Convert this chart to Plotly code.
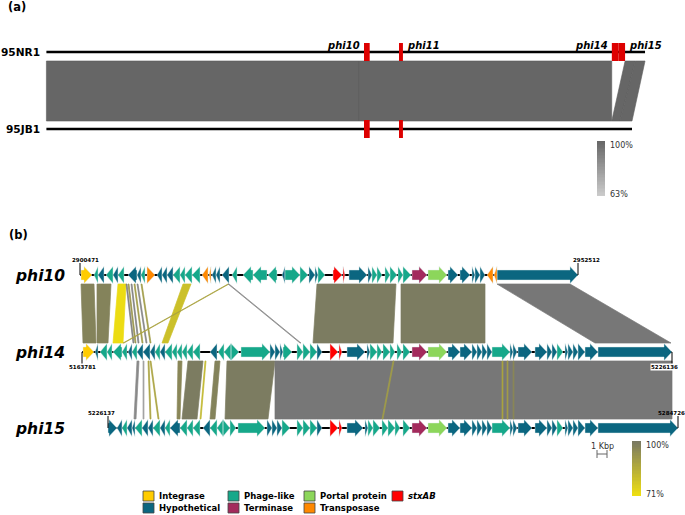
import plotly.graph_objects as go

FONT = "DejaVu Sans"

# ---------------- panel (a): whole genome comparison (Mb) ----------------
GENOMES = ["95NR1", "95JB1"]
GENOME_LEN_MB = [5.467, 5.348]
PHAGES_A = ["phi10", "phi11", "phi14", "phi15"]
PHAGE_START_MB = [2.9005, 3.2200, 5.1638, 5.2261]
PHAGE_END_MB = [2.9525, 3.2560, 5.2261, 5.2847]
PHAGE_IN_95JB1 = [True, True, False, False]
# (95NR1 start, 95NR1 end, 95JB1 start, 95JB1 end, identity %)
BLOCKS_A = [
    (0.000, 2.855, 0.000, 2.855, 100),
    (2.855, 5.163, 2.855, 5.163, 100),
    (5.285, 5.378, 5.163, 5.238, 100),
    (5.378, 5.467, 5.238, 5.348, 100),
]
IDENT_A = (63, 100)

# ---------------- panel (b): prophage comparison (kb on the track) ----------------
ROWS = ["phi10", "phi14", "phi15"]
ROW_COORDS = [(2900471, 2952512), (5163781, 5226136), (5226137, 5284726)]
ROW_OFFSET_KB = [8.0, 8.2, 10.8]
ROW_LEN_KB = [49.8, 59.0, 57.0]

# gene: (start kb, end kb, strand, type)  I integrase, H hypothetical, P phage-like,
# T terminase, L portal protein, X transposase, S stxAB
GENES_PHI10 = [
    (0.1, 1.2, 1, "I"), (1.4, 1.8, -1, "P"), (1.8, 2.4, -1, "H"), (2.6, 3.3, -1, "P"),
    (3.3, 3.8, -1, "H"), (3.8, 4.4, -1, "P"), (4.8, 5.7, -1, "H"), (5.7, 6.1, -1, "H"),
    (6.1, 6.5, -1, "P"), (6.7, 7.5, 1, "X"), (7.7, 8.2, -1, "H"), (8.2, 8.7, -1, "H"),
    (8.7, 9.3, -1, "H"), (9.3, 10.0, -1, "P"), (10.0, 10.5, -1, "P"), (10.5, 11.2, -1, "P"),
    (11.2, 12.0, -1, "P"), (12.2, 12.8, -1, "X"), (12.9, 13.1, -1, "X"), (13.2, 13.6, -1, "H"),
    (13.6, 14.0, -1, "H"), (14.2, 14.9, -1, "H"), (15.2, 15.7, -1, "P"), (16.3, 17.3, -1, "P"),
    (17.3, 18.7, -1, "P"), (18.8, 19.7, -1, "P"), (20.2, 20.5, -1, "H"), (20.5, 22.0, 1, "P"),
    (22.0, 22.8, 1, "P"), (22.9, 23.5, 1, "H"), (23.5, 23.8, 1, "H"), (23.8, 24.5, 1, "P"),
    (25.3, 26.2, 1, "S"), (26.3, 26.5, 1, "S"), (26.9, 28.7, 1, "H"), (28.8, 29.2, 1, "H"),
    (29.2, 29.7, 1, "P"), (29.7, 30.2, 1, "P"), (30.5, 31.0, 1, "P"), (31.0, 31.7, 1, "P"),
    (31.8, 32.3, 1, "P"), (32.3, 33.1, 1, "P"), (33.2, 34.7, 1, "T"), (34.8, 36.7, 1, "L"),
    (36.8, 37.8, 1, "H"), (38.0, 39.0, 1, "H"), (39.2, 39.5, 1, "H"), (39.5, 40.0, 1, "H"),
    (40.0, 40.5, 1, "H"), (40.7, 41.3, -1, "X"), (41.4, 41.7, -1, "X"), (41.7, 49.8, 1, "H"),
]
GENES_PHI14 = [
    (0.1, 1.2, 1, "I"), (1.3, 1.6, -1, "H"), (1.8, 2.5, -1, "P"), (2.5, 3.0, -1, "P"),
    (3.1, 4.0, -1, "P"), (4.0, 4.5, -1, "P"), (4.6, 5.0, -1, "H"), (5.0, 5.5, -1, "P"),
    (5.5, 6.1, -1, "H"), (6.1, 6.8, -1, "H"), (6.8, 7.3, -1, "H"), (7.3, 7.8, -1, "P"),
    (7.8, 8.3, -1, "H"), (8.3, 9.0, -1, "P"), (9.0, 9.5, -1, "P"), (9.5, 10.0, -1, "P"),
    (10.0, 10.5, -1, "P"), (10.5, 11.1, -1, "P"), (11.1, 11.8, -1, "P"), (12.8, 13.5, -1, "H"),
    (13.6, 14.2, -1, "P"), (14.2, 14.9, -1, "P"), (14.9, 15.7, 1, "P"), (15.9, 18.8, 1, "P"),
    (18.8, 19.3, 1, "H"), (19.3, 19.8, 1, "H"), (19.8, 20.1, 1, "H"), (20.1, 21.0, 1, "P"),
    (21.5, 22.1, 1, "P"), (22.1, 22.8, 1, "P"), (22.8, 23.5, 1, "P"), (23.5, 24.0, 1, "H"),
    (24.8, 25.6, 1, "S"), (25.7, 26.0, 1, "S"), (26.5, 28.3, 1, "H"), (28.5, 28.8, 1, "H"),
    (28.8, 29.5, 1, "P"), (29.5, 30.0, 1, "P"), (30.1, 30.8, 1, "P"), (30.8, 31.3, 1, "P"),
    (31.5, 32.0, 1, "P"), (32.1, 32.8, 1, "P"), (33.0, 34.5, 1, "T"), (34.6, 36.5, 1, "L"),
    (36.6, 37.8, 1, "H"), (37.8, 39.0, 1, "H"), (39.0, 39.5, 1, "H"), (39.5, 40.0, 1, "H"),
    (40.0, 40.5, 1, "H"), (40.5, 41.0, 1, "H"), (41.0, 42.8, 1, "P"), (42.8, 43.1, 1, "H"),
    (43.1, 43.5, 1, "H"), (43.6, 45.0, 1, "H"), (45.3, 46.5, 1, "H"), (46.5, 47.0, 1, "H"),
    (47.0, 47.5, 1, "H"), (47.5, 48.1, 1, "P"), (48.3, 48.6, 1, "H"), (48.6, 49.1, 1, "H"),
    (49.1, 49.6, 1, "H"), (49.6, 50.3, 1, "H"), (50.3, 51.6, 1, "H"), (51.6, 59.0, 1, "H"),
]
GENES_PHI15 = [
    (0.0, 0.9, 1, "H"), (0.9, 1.4, -1, "H"), (1.4, 1.9, -1, "P"), (1.9, 2.4, -1, "H"),
    (2.4, 2.7, -1, "H"), (2.7, 3.4, -1, "P"), (3.4, 4.0, -1, "H"), (4.0, 4.5, -1, "H"),
    (4.5, 5.2, -1, "P"), (5.2, 5.7, -1, "H"), (5.7, 6.2, -1, "P"), (6.2, 7.2, -1, "H"),
    (7.2, 7.9, -1, "P"), (7.9, 8.5, -1, "P"), (8.5, 9.2, -1, "P"), (9.5, 10.2, -1, "H"),
    (10.2, 10.9, -1, "P"), (10.9, 11.5, -1, "P"), (11.5, 12.2, 1, "P"), (12.2, 12.8, 1, "P"),
    (13.0, 15.7, 1, "P"), (15.9, 16.4, 1, "H"), (16.4, 16.9, 1, "H"), (16.9, 17.4, 1, "H"),
    (17.4, 18.2, 1, "P"), (18.9, 19.5, 1, "P"), (19.5, 20.2, 1, "P"), (20.2, 20.9, 1, "P"),
    (20.9, 21.4, 1, "H"), (22.2, 23.0, 1, "S"), (23.1, 23.4, 1, "S"), (23.9, 25.5, 1, "H"),
    (25.7, 26.0, 1, "H"), (26.0, 26.5, 1, "P"), (26.5, 27.2, 1, "P"), (27.4, 28.0, 1, "P"),
    (28.0, 28.7, 1, "P"), (28.7, 29.2, 1, "P"), (29.5, 30.2, 1, "P"), (30.4, 31.9, 1, "T"),
    (32.0, 33.9, 1, "L"), (34.0, 35.2, 1, "H"), (35.2, 36.4, 1, "H"), (36.4, 36.9, 1, "H"),
    (36.9, 37.4, 1, "H"), (37.4, 37.9, 1, "H"), (37.9, 38.4, 1, "H"), (38.4, 40.2, 1, "P"),
    (40.2, 40.5, 1, "H"), (40.5, 40.9, 1, "H"), (41.0, 42.4, 1, "H"), (42.7, 43.9, 1, "H"),
    (43.9, 44.4, 1, "H"), (44.4, 44.9, 1, "H"), (44.9, 45.5, 1, "P"), (45.7, 46.0, 1, "H"),
    (46.0, 46.5, 1, "H"), (46.5, 47.0, 1, "H"), (47.0, 47.7, 1, "H"), (47.7, 49.0, 1, "H"),
    (49.0, 57.0, 1, "H"),
]
GENES = [GENES_PHI10, GENES_PHI14, GENES_PHI15]

# blast hits: (upper start, upper end, lower start, lower end, identity %, kind)
HITS_10_14 = [
    (0.1, 1.4, 0.1, 1.4, 97, "inv"), (1.7, 3.1, 1.5, 2.6, 97, "inv"),
    (3.8, 4.6, 3.1, 4.1, 72, "inv"), (4.6, 4.7, 5.1, 5.2, 96, "fwd"),
    (4.8, 4.9, 5.3, 5.4, 92, "inv"), (5.1, 5.2, 5.6, 5.7, 95, "fwd"),
    (5.4, 5.5, 6.0, 6.1, 90, "inv"), (5.7, 5.8, 6.4, 6.5, 94, "fwd"),
    (6.1, 6.2, 6.8, 6.9, 90, "inv"), (10.3, 11.1, 8.0, 8.6, 80, "inv"),
    (14.8, 14.9, 4.1, 4.2, 88, "inv"), (14.8, 14.9, 21.8, 21.9, 92, "fwd"),
    (23.7, 31.6, 23.1, 31.1, 99, "inv"), (32.1, 40.5, 31.9, 40.3, 99, "inv"),
    (41.7, 49.0, 51.3, 58.9, 100, "fwd"),
]
HITS_14_15 = [
    (5.5, 5.7, 2.6, 2.8, 92, "fwd"), (6.1, 6.2, 3.5, 3.6, 80, "fwd"),
    (6.6, 6.7, 4.2, 4.3, 88, "inv"), (6.8, 6.9, 5.0, 5.1, 88, "inv"),
    (9.6, 10.0, 6.9, 7.2, 96, "inv"), (10.6, 12.1, 7.4, 8.9, 99, "inv"),
    (12.3, 12.4, 9.2, 9.3, 82, "inv"), (13.3, 13.8, 10.2, 10.7, 97, "inv"),
    (14.5, 19.3, 11.7, 16.0, 99, "inv"), (19.3, 59.0, 16.7, 56.4, 100, "fwd"),
    (31.1, 31.2, 27.4, 27.5, 90, "inv"), (42.0, 42.1, 39.4, 39.5, 88, "inv"),
    (42.5, 42.6, 39.9, 40.0, 90, "inv"), (43.1, 43.2, 40.5, 40.6, 96, "inv"),
]
IDENT_B = (71, 100)

GENE_CODES = ["I", "H", "P", "T", "L", "X", "S"]
GENE_NAMES = ["Integrase", "Hypothetical", "Phage-like", "Terminase",
              "Portal protein", "Transposase", "<i>stxAB</i>"]
GENE_COLORS = {"I": "#ffcc00", "H": "#0b6680", "P": "#16a88a", "T": "#a32a5c",
               "L": "#8cd65b", "X": "#ff8800", "S": "#ff0000"}

# ---------------- layout constants (pixel space) ----------------
Y_A = [52, 129]
Y_ROWS = [275, 352, 428]
HEAD_H, SHAFT_H, HEAD_KB = 8.5, 5.0, 0.8


def hex_rgb(c):
    c = c.lstrip("#")
    return [int(c[i:i + 2], 16) for i in (0, 2, 4)]


def blend(c_hi, c_lo, ident, lo, hi):
    t = min(max((hi - ident) / (hi - lo), 0), 1)
    a, b = hex_rgb(c_hi), hex_rgb(c_lo)
    return "rgb({},{},{})".format(*[round(a[i] + (b[i] - a[i]) * t) for i in range(3)])


def hit_color(ident, kind):
    if kind == "inv":
        return blend("#787864", "#f0e010", ident, *IDENT_B)
    return blend("#777777", "#cccccc", ident, 63, 100)


def arrow(x0, x1, strand, yc):
    base, tip = (x0, x1) if strand > 0 else (x1, x0)
    d = 1 if strand > 0 else -1
    h = min(abs(x1 - x0), HEAD_KB)
    neck = tip - d * h
    if abs(x1 - x0) > h + 1e-9:
        xs = [base, neck, neck, tip, neck, neck, base, base]
        ys = [yc - SHAFT_H, yc - SHAFT_H, yc - HEAD_H, yc, yc + HEAD_H, yc + SHAFT_H, yc + SHAFT_H, yc - SHAFT_H]
    else:
        xs = [base, tip, base, base]
        ys = [yc - HEAD_H, yc, yc + HEAD_H, yc - HEAD_H]
    return xs, ys


fig = go.Figure()

# ---- panel (a) ----
for (t0, t1, b0, b1, ident) in BLOCKS_A:
    col = blend("#666666", "#cccccc", ident, *IDENT_A)
    fig.add_trace(go.Scatter(
        x=[t0, t1, b1, b0, t0], y=[Y_A[0] + 9, Y_A[0] + 9, Y_A[1] - 8, Y_A[1] - 8, Y_A[0] + 9],
        mode="lines", fill="toself", fillcolor=col, line=dict(color="#5c5c5c", width=0.6),
        xaxis="x2", yaxis="y", hoverinfo="skip"))
for name, length, y in zip(GENOMES, GENOME_LEN_MB, Y_A):
    fig.add_trace(go.Scatter(x=[0, length], y=[y, y], mode="lines",
                             line=dict(color="black", width=2.6), xaxis="x2", yaxis="y", hoverinfo="skip"))

shapes = []
annotations = []
for i, (p, s, e) in enumerate(zip(PHAGES_A, PHAGE_START_MB, PHAGE_END_MB)):
    for j, y in enumerate(Y_A):
        if j == 1 and not PHAGE_IN_95JB1[i]:
            continue
        shapes.append(dict(type="rect", xref="x2", yref="y", x0=s, x1=e, y0=y - 9, y1=y + 9,
                           fillcolor="#dd0000", line=dict(width=0)))
for i, (p, s, e) in enumerate(zip(PHAGES_A, PHAGE_START_MB, PHAGE_END_MB)):
    left = i % 2 == 0
    annotations.append(dict(x=s if left else e, y=45, xref="x2", yref="y",
                            text=f"<b><i>{p}</i></b>", showarrow=False,
                            xanchor="right" if left else "left", xshift=-2 if left else 2,
                            font=dict(family=FONT, size=10, color="black")))
for name, y in zip(GENOMES, Y_A):
    annotations.append(dict(x=42, y=y, xref="x3", yref="y", text=f"<b>{name}</b>", showarrow=False,
                            xanchor="right", font=dict(family=FONT, size=10.6, color="black")))

# ---- panel (b) ----
for hits, (ya, yb) in [(HITS_10_14, (Y_ROWS[0], Y_ROWS[1])), (HITS_14_15, (Y_ROWS[1], Y_ROWS[2]))]:
    ia, ib = Y_ROWS.index(ya), Y_ROWS.index(yb)
    oa, ob = ROW_OFFSET_KB[ia], ROW_OFFSET_KB[ib]
    y0, y1 = ya + HEAD_H + 0.5, yb - HEAD_H - 0.5
    for (t0, t1, b0, b1, ident, kind) in hits:
        col = hit_color(ident, kind)
        fig.add_trace(go.Scatter(
            x=[oa + t0, oa + t1, ob + b1, ob + b0, oa + t0], y=[y0, y0, y1, y1, y0],
            mode="lines", fill="toself", fillcolor=col, line=dict(color=col, width=0.7),
            xaxis="x", yaxis="y", hoverinfo="skip"))

for r, (name, off, length, yc) in enumerate(zip(ROWS, ROW_OFFSET_KB, ROW_LEN_KB, Y_ROWS)):
    fig.add_trace(go.Scatter(x=[off, off + length], y=[yc, yc], mode="lines",
                             line=dict(color="black", width=2.2), xaxis="x", yaxis="y", hoverinfo="skip"))
    for code in GENE_CODES:
        xs, ys = [], []
        for (g0, g1, st, t) in GENES[r]:
            if t != code:
                continue
            ax, ay = arrow(off + g0, off + g1, st, yc)
            xs += ax + [None]
            ys += ay + [None]
        if xs:
            fig.add_trace(go.Scatter(x=xs, y=ys, mode="lines", fill="toself",
                                     fillcolor=GENE_COLORS[code],
                                     line=dict(color="rgba(225,235,235,0.9)", width=0.5),
                                     xaxis="x", yaxis="y", hoverinfo="skip"))
    annotations.append(dict(x=13, y=yc + 1, xref="x3", yref="y", text=f"<b><i>{name}</i></b>",
                            showarrow=False, xanchor="left",
                            font=dict(family=FONT, size=15.5, color="black")))

# coordinate ticks at prophage ends
tick_specs = [  # row, which end, direction (-1 up / +1 down), label shift px
    (0, 0, -1, 5), (0, 1, -1, 8), (1, 0, 1, 0), (1, 1, 1, -8), (2, 0, -1, -7), (2, 1, -1, -7)]
for r, end, dirn, shift in tick_specs:
    x = ROW_OFFSET_KB[r] + (ROW_LEN_KB[r] if end else 0)
    yc = Y_ROWS[r]
    shapes.append(dict(type="line", xref="x", yref="y", x0=x, x1=x, y0=yc, y1=yc + dirn * 12,
                       line=dict(color="black", width=1)))
    annotations.append(dict(x=x, y=yc + dirn * 15, xref="x", yref="y", xshift=shift,
                            text=f"<b>{ROW_COORDS[r][end]}</b>", showarrow=False,
                            bgcolor="white" if dirn > 0 else None,
                            font=dict(family=FONT, size=5.5, color="black"), borderpad=0))

# panel labels
annotations.append(dict(x=6, y=7, xref="x3", yref="y", text="<b>(a)</b>", showarrow=False,
                        xanchor="left", font=dict(family=FONT, size=11.5, color="black")))
annotations.append(dict(x=7, y=235, xref="x3", yref="y", text="<b>(b)</b>", showarrow=False,
                        xanchor="left", font=dict(family=FONT, size=11.5, color="black")))


# identity colour bars
def gradient(x0, x1, y0, y1, lo, hi, c_hi, c_lo):
    n = 40
    edges = [y0 + (y1 - y0) * k / n for k in range(n + 1)]
    z = [[hi - (hi - lo) * (k + 0.5) / n] for k in range(n)]
    fig.add_trace(go.Heatmap(z=z, x=[x0, x1], y=edges, zmin=lo, zmax=hi,
                             colorscale=[[0, c_lo], [1, c_hi]], showscale=False,
                             xaxis="x3", yaxis="y", hoverinfo="skip"))
    for txt, y in [(f"{hi}%", y0 + 4), (f"{lo}%", y1 - 2)]:
        annotations.append(dict(x=x1 + 3, y=y, xref="x3", yref="y", text=txt, showarrow=False,
                                xanchor="left", font=dict(family=FONT, size=8, color="#333333")))


gradient(597, 605, 141, 196, IDENT_A[0], IDENT_A[1], "#666666", "#cccccc")
gradient(632, 641, 441, 496, IDENT_B[0], IDENT_B[1], "#787864", "#f0e010")

# scale bar: 1 kbp
SCALE_KB = 1
sx0 = 59.7
shapes.append(dict(type="line", xref="x", yref="y", x0=sx0, x1=sx0 + SCALE_KB, y0=454, y1=454,
                   line=dict(color="#666666", width=1)))
for xx in (sx0, sx0 + SCALE_KB):
    shapes.append(dict(type="line", xref="x", yref="y", x0=xx, x1=xx, y0=450, y1=458,
                       line=dict(color="#666666", width=1)))
annotations.append(dict(x=sx0 + SCALE_KB / 2, y=446, xref="x", yref="y", text="1 Kbp",
                        showarrow=False, font=dict(family=FONT, size=8, color="#333333")))

# legend
legend_pos = [(143, 496), (143, 508), (228, 496), (228, 508), (304, 496), (304, 508), (392, 496)]
for code, name, (lx, ly) in zip(GENE_CODES, GENE_NAMES, legend_pos):
    shapes.append(dict(type="rect", xref="x3", yref="y", x0=lx, x1=lx + 11, y0=ly - 5, y1=ly + 5,
                       fillcolor=GENE_COLORS[code], line=dict(color="#444444", width=0.8)))
    annotations.append(dict(x=lx + 14, y=ly, xref="x3", yref="y", text=f"<b>{name}</b>",
                            showarrow=False, xanchor="left",
                            font=dict(family=FONT, size=8.5, color="black")))

fig.update_layout(
    width=685, height=515, margin=dict(l=0, r=0, t=0, b=0),
    paper_bgcolor="white", plot_bgcolor="white", showlegend=False,
    xaxis=dict(range=[0, 68.5], visible=False, domain=[0, 1], fixedrange=True),
    xaxis2=dict(range=[-0.4237, 5.832], visible=False, overlaying="x", fixedrange=True),
    xaxis3=dict(range=[0, 685], visible=False, overlaying="x", fixedrange=True),
    yaxis=dict(range=[515, 0], visible=False, fixedrange=True),
    shapes=shapes, annotations=annotations,
)

# the page body has a default 8px margin; drop it so the figure sits at the window origin
fig.write_html("out.html", config={"displayModeBar": False},
               post_script="document.body.style.margin='0';document.body.style.overflow='hidden';")
